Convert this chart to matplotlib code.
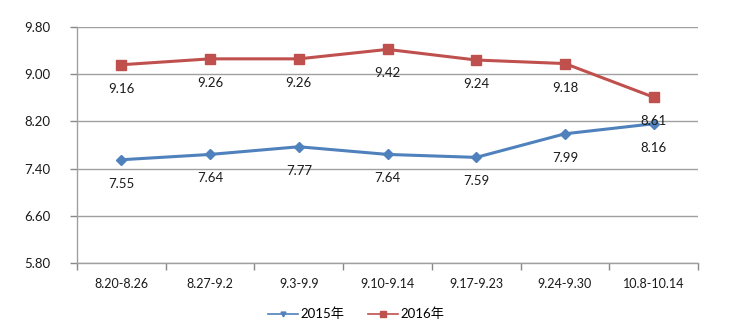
import matplotlib
matplotlib.use("Agg")
import matplotlib.pyplot as plt
from matplotlib.lines import Line2D

plt.rcParams['font.family'] = ['Lato', 'Noto Sans CJK SC', 'DejaVu Sans']

categories = ["8.20-8.26", "8.27-9.2", "9.3-9.9", "9.10-9.14", "9.17-9.23", "9.24-9.30", "10.8-10.14"]
series_2015 = [7.55, 7.64, 7.77, 7.64, 7.59, 7.99, 8.16]
series_2016 = [9.16, 9.26, 9.26, 9.42, 9.24, 9.18, 8.61]
y_ticks = [5.80, 6.60, 7.40, 8.20, 9.00, 9.80]

blue = "#4F81BD"
red = "#C0504D"
text_color = "#1a1a1a"

fig = plt.figure(figsize=(7.34, 3.29), dpi=100)
ax = fig.add_axes([0.105, 0.2006, 0.846, 0.7174])

x = list(range(len(categories)))
ax.plot(x, series_2015, color=blue, lw=2.2, marker="D", ms=5.5, zorder=3)
ax.plot(x, series_2016, color=red, lw=2.2, marker="s", ms=7, zorder=3)

for xi, v in zip(x, series_2015):
    ax.annotate(f"{v:.2f}", (xi, v), xytext=(0, -13), textcoords="offset points",
                ha="center", va="top", fontsize=9.5, color=text_color)
for xi, v in zip(x, series_2016):
    ax.annotate(f"{v:.2f}", (xi, v), xytext=(0, -13), textcoords="offset points",
                ha="center", va="top", fontsize=9.5, color=text_color)

ax.set_xlim(-0.5, len(categories) - 0.5)
ax.set_ylim(5.80, 9.80)
ax.set_yticks(y_ticks)
ax.set_yticklabels([f"{t:.2f}" for t in y_ticks], fontsize=9.5, color=text_color)
ax.set_xticks(x)
ax.set_xticklabels(categories, fontsize=9, color=text_color)
ax.tick_params(axis="x", length=0, pad=11)
ax.set_xticks([i - 0.5 for i in range(len(categories) + 1)], minor=True)
ax.tick_params(axis="x", which="minor", length=5, color="#888888", width=1)
ax.tick_params(axis="y", length=5, color="#888888", width=1, pad=14)

ax.grid(axis="y", color="#a0a0a0", lw=1)
ax.set_axisbelow(True)
for s in ["top", "right"]:
    ax.spines[s].set_visible(False)
ax.spines["left"].set_color("#a0a0a0")
ax.spines["bottom"].set_color("#a0a0a0")
ax.spines["left"].set_linewidth(1)
ax.spines["bottom"].set_linewidth(1)

handles = [
    Line2D([], [], color=blue, lw=1.2, marker="v", ms=3.5),
    Line2D([], [], color=red, lw=1.2, marker="s", ms=4.5),
]
fig.legend(handles, ["2015年", "2016年"], loc="center", bbox_to_anchor=(0.485, 0.045),
           ncol=2, frameon=False, fontsize=9.5, handlelength=2.3, columnspacing=1.8,
           handletextpad=0.15)

fig.savefig("out.png", dpi=100)
